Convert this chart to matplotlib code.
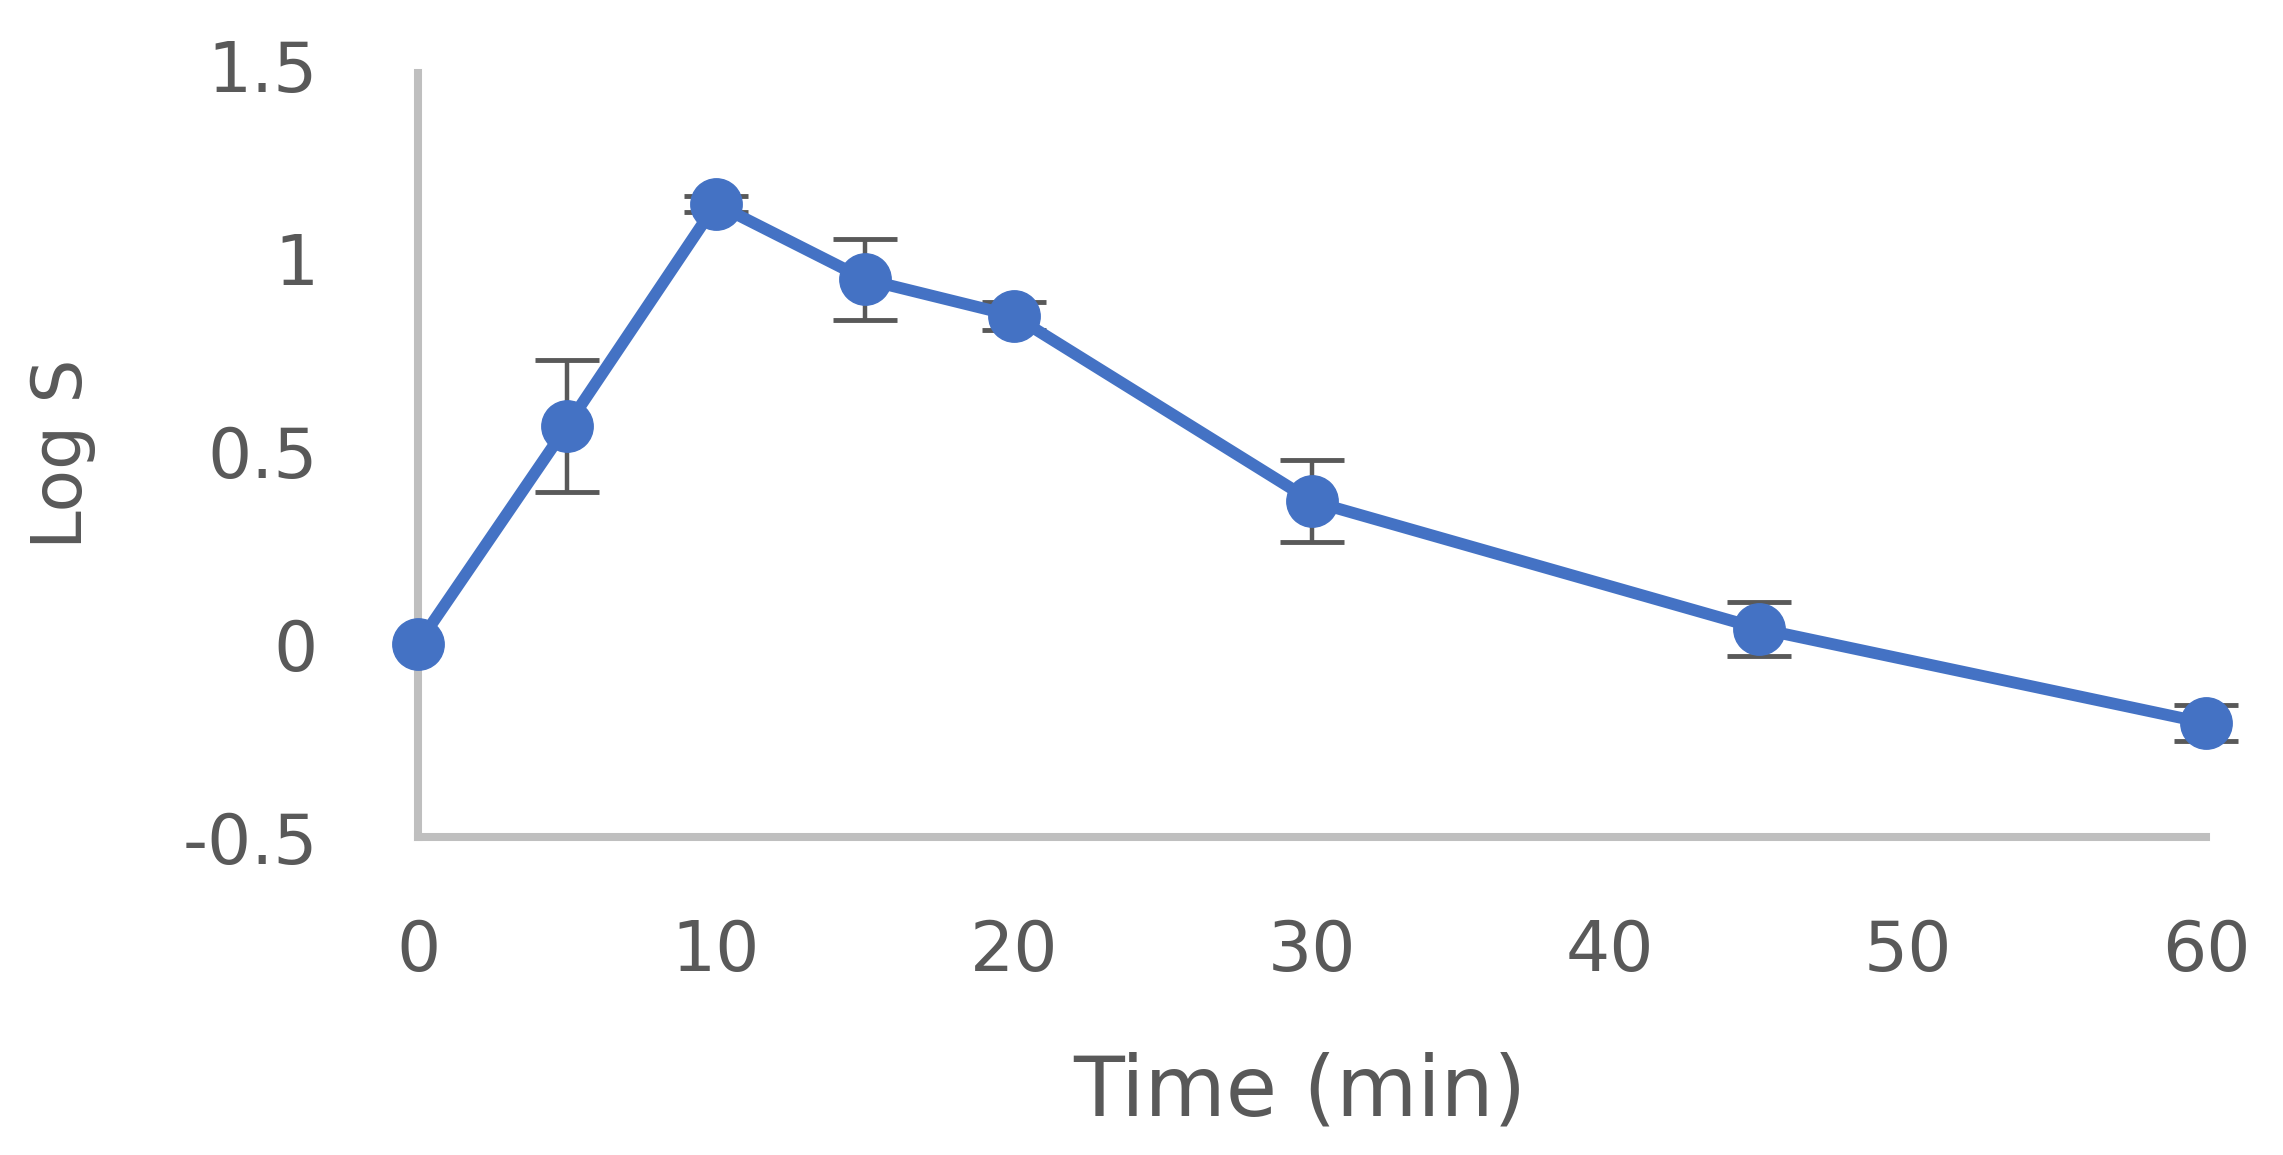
import matplotlib
matplotlib.use('Agg')
import matplotlib.pyplot as plt

# Values
time_min = [0, 5, 10, 15, 20, 30, 45, 60]
log_s = [0.0, 0.565, 1.14, 0.945, 0.85, 0.37, 0.04, -0.205]
log_s_err = [0.0, 0.17, 0.02, 0.105, 0.037, 0.106, 0.07, 0.047]

x_ticks = [0, 10, 20, 30, 40, 50, 60]
y_ticks = [-0.5, 0, 0.5, 1, 1.5]
y_tick_labels = ['-0.5', '0', '0.5', '1', '1.5']

line_color = '#4472C4'
text_color = '#595959'
axis_color = '#BFBFBF'

fig = plt.figure(figsize=(22.83, 11.55), dpi=100)
ax = fig.add_axes([0.1831, 0.2753, 0.7832, 0.6684])

# only points that actually have an error bar (t=0 has none)
has_err = [e > 0 for e in log_s_err]
err_t = [t for t, h in zip(time_min, has_err) if h]
err_y = [y for y, h in zip(log_s, has_err) if h]
err_e = [e for e, h in zip(log_s_err, has_err) if h]

ax.errorbar(err_t, err_y, yerr=err_e, fmt='none', ecolor=text_color,
            elinewidth=3.2, capsize=23, capthick=3.5, clip_on=False, zorder=2)
ax.plot(time_min, log_s, color=line_color, linewidth=8.5, marker='o',
        markersize=37, clip_on=False, zorder=3)

ax.set_xlim(0, 60)
ax.set_ylim(-0.5, 1.5)
ax.set_xticks(x_ticks)
ax.set_yticks(y_ticks)
ax.set_yticklabels(y_tick_labels)

for side in ['top', 'right']:
    ax.spines[side].set_visible(False)
for side in ['left', 'bottom']:
    ax.spines[side].set_color(axis_color)
    ax.spines[side].set_linewidth(5.8)
ax.spines['left'].set_bounds(-0.5, 1.48)

ax.tick_params(axis='both', length=0, labelsize=50, labelcolor=text_color)
ax.tick_params(axis='x', pad=58)
ax.tick_params(axis='y', pad=72)

ax.set_xlabel('Time (min)', fontsize=60, color=text_color)
ax.xaxis.label.set_va('center')
ax.xaxis.set_label_coords(0.493, -0.33)
ax.set_ylabel('Log S', fontsize=50, color=text_color)
ax.yaxis.label.set_va('center')
ax.yaxis.set_label_coords(-0.199, 0.497)

fig.savefig('out.png', dpi=100)
